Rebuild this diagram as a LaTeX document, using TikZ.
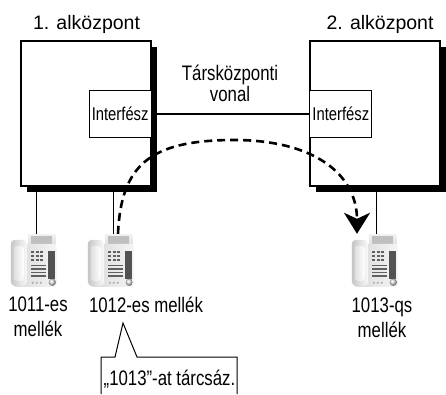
\documentclass[tikz,border=0pt]{standalone}
\usepackage{fontspec}
\setmainfont{Liberation Sans}
\newfontfamily\narrowsf[FakeStretch=0.8]{Liberation Sans}
\usetikzlibrary{arrows.meta,shadows}

\tikzset{
  pbx/.style={draw, line width=1.2pt, fill=white, inner sep=0pt,
    minimum width=130pt, minimum height=145pt,
    drop shadow={shadow xshift=6pt, shadow yshift=-6pt, opacity=1, fill=black}},
  ifbox/.style={draw, line width=0.9pt, fill=white, inner sep=0pt,
    minimum width=62pt, minimum height=47pt,
    font=\narrowsf\fontsize{18.5}{20}\selectfont},
  title/.style={font=\fontsize{19.5}{22}\selectfont, inner sep=0pt},
  lbl/.style={font=\narrowsf\fontsize{21}{25}\selectfont, inner sep=0pt, align=center},
  phone/.style={inner sep=0pt, minimum width=46pt, minimum height=53pt},
  wire/.style={line width=1pt},
  trunk/.style={line width=2pt},
  call/.style={line width=2.6pt, dash pattern=on 8pt off 5pt,
    -{Stealth[length=21pt, width=26pt, inset=6pt]}},
  % asztali telefon, bal felso sarok az origo
  deskphone/.pic={
    \shade[top color=gray!10, bottom color=gray!30, rounded corners=2pt] (17,0) rectangle (45,16);
    \fill[gray!50] (20,2) rectangle (41,13);
    \shade[left color=gray!30, right color=gray!8, rounded corners=3pt] (2,10) rectangle (46,53);
    \shade[left color=gray!45, right color=gray!5, rounded corners=4pt] (0,6) rectangle (16,52);
    \shade[left color=gray!25, right color=white, rounded corners=3pt] (3,12) rectangle (13,47);
    \foreach \i in {0,1,2}
      \foreach \j in {0,1,2}
        \fill[gray!75!black] (20.5+\i*4.5,17+\j*4) rectangle ++(3,2.4);
    \foreach \j in {0,...,3}
      \fill[gray!75!black] (20,31+\j*3.4) rectangle ++(15,1.6);
    \fill[gray!65!black] (37,17) rectangle (44,45);
    \foreach \i in {0,1,2}
      \fill[gray!70] (22+\i*4,49) circle (1.1pt);
    \shade[ball color=gray!25] (41.5,48.5) circle (3.6pt);
  }
}

\begin{document}
\begin{tikzpicture}[x=1pt, y=-1pt]
  \useasboundingbox (0,0) rectangle (446,394);

  % a ket alkozpont
  \node[pbx] (pbx1) at (86,113.5) {};
  \node[pbx] (pbx2) at (375,113.5) {};
  \node[title, anchor=base] (t1) at (86.5,29) {1. alközpont};
  \node[title, anchor=base] (t2) at (380,29) {2. alközpont};

  % interfeszek es a tarsvonal
  \node[ifbox, anchor=east] (if1) at (pbx1.east) {Interfész};
  \node[ifbox, anchor=west] (if2) at (pbx2.west) {Interfész};
  \draw[trunk] (if1.east) -- (if2.west);
  \node[lbl, anchor=base] (trk) at (230,80) {Társközponti};
  \node[lbl, anchor=base] (trk2) at (230,101) {vonal};

  % mellekek
  \node[phone] (ph1) at (34,260.5) {};
  \node[phone] (ph2) at (111,260.5) {};
  \node[phone] (ph3) at (375,260.5) {};
  \foreach \p in {ph1,ph2,ph3}
    \pic at (\p.north west) {deskphone};
  \draw[wire] ([xshift=2.5pt]ph1.north) -- ([xshift=2.5pt]ph1.north |- pbx1.south);
  \draw[wire] ([xshift=2.5pt]ph2.north) -- ([xshift=2.5pt]ph2.north |- pbx1.south);
  \draw[wire] ([xshift=1.5pt]ph3.north) -- ([xshift=1.5pt]ph3.north |- pbx2.south);

  \node[lbl, anchor=north] (n1) at (38,297) {1011-es\\mellék};
  \node[lbl, anchor=base] (n2) at (146,312) {1012-es mellék};
  \node[lbl, anchor=north] (n3) at (382,298) {1013-qs\\mellék};

  % hivas utja
  \coordinate (apex) at (230,140);
  \draw[call] ([xshift=7pt]ph2.north) .. controls (121,165) and (150,141) .. (apex)
    .. controls (315,139) and (357,175) .. ([xshift=-18pt]ph3.north);

  % buborek
  \draw[line width=1pt] (101,394) -- (101,357) -- (115,357) -- (123,323)
    -- (137,357) -- (237,357) -- (237,394);
  \node[lbl, anchor=base] (dial) at (169.5,385) {„1013”-at tárcsáz.};
\end{tikzpicture}
\end{document}
